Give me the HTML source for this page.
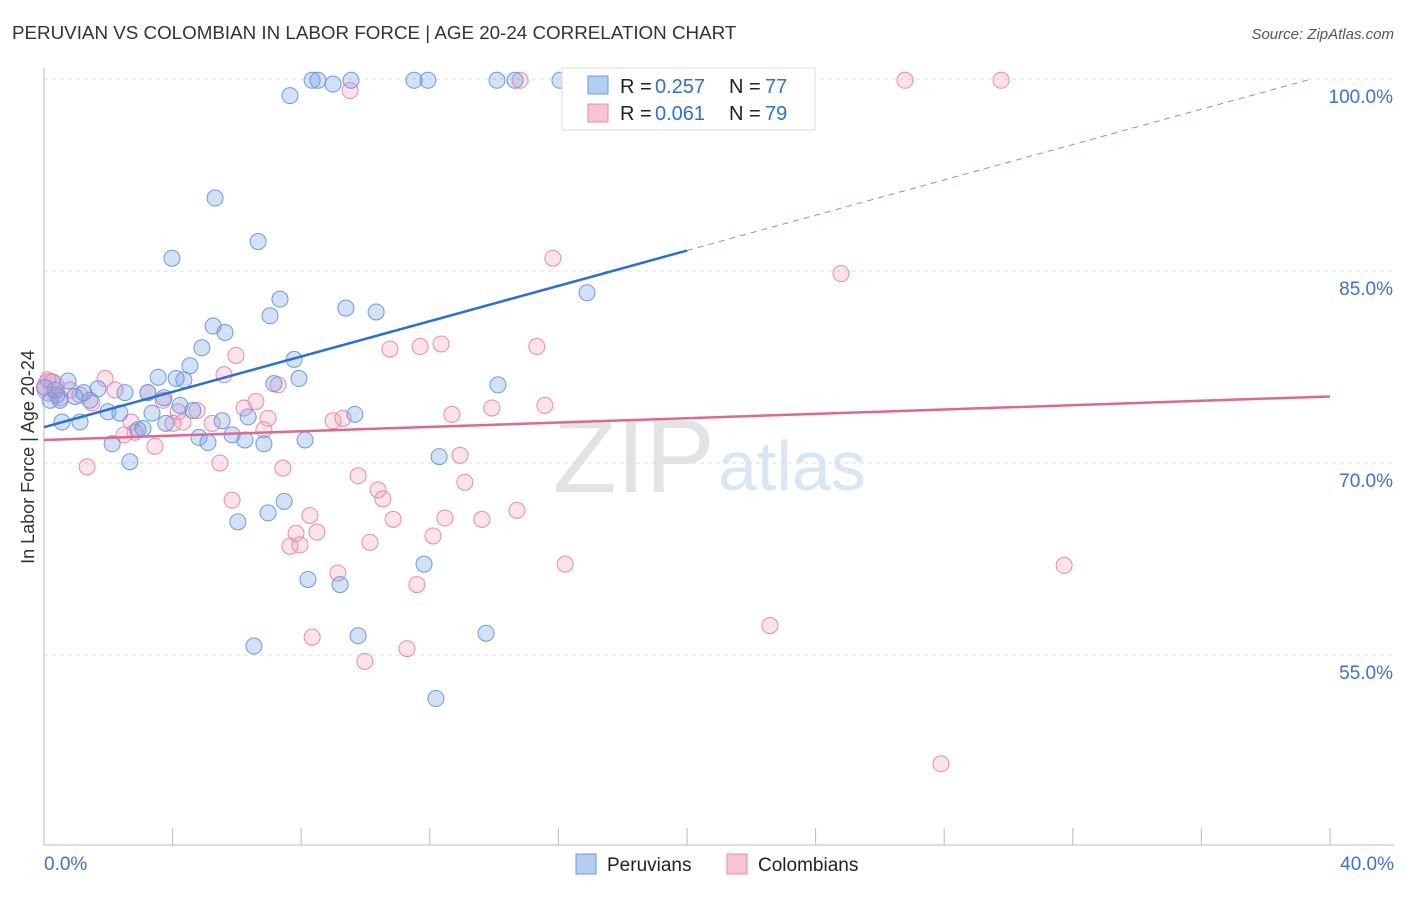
<!DOCTYPE html>
<html><head><meta charset="utf-8"><style>
body{margin:0;background:#fff;font-family:"Liberation Sans",sans-serif;}
svg text{font-family:"Liberation Sans",sans-serif;}
</style></head><body>
<svg id="chart" width="1406" height="892">
<text x="12" y="39" font-size="18.8" fill="#333">PERUVIAN VS COLOMBIAN IN LABOR FORCE | AGE 20-24 CORRELATION CHART</text>
<text x="1394" y="39" font-size="15" fill="#555" font-style="italic" text-anchor="end">Source: ZipAtlas.com</text>
<text x="34" y="457" font-size="18" fill="#333" transform="rotate(-90 34 457)" text-anchor="middle">In Labor Force | Age 20-24</text>
<text x="553" y="492" font-size="104" fill="#e3e3e3" font-family="Liberation Serif">ZIP</text>
<text x="718" y="490" font-size="70" fill="#dbe6f5">atlas</text>
<g id="grid"></g><g id="axes"></g><g id="pts"></g><g id="lines"></g>
<g>
<rect x="562" y="68" width="253" height="62" fill="#fff" stroke="#ddd"/>
<rect x="588" y="76" width="20" height="18" fill="#b4cdf3" stroke="#6a9be0"/>
<rect x="588" y="104" width="20" height="18" fill="#f8c4d4" stroke="#e98bab"/>
<g font-size="20">
<text x="620" y="93" fill="#222">R =</text><text x="655" y="93" fill="#2f6fd6">0.257</text>
<text x="729" y="93" fill="#222">N =</text><text x="765" y="93" fill="#2f6fd6">77</text></g>
<g font-size="20">
<text x="620" y="120" fill="#222">R =</text><text x="655" y="120" fill="#2f6fd6">0.061</text>
<text x="729" y="120" fill="#222">N =</text><text x="765" y="120" fill="#2f6fd6">79</text></g>
</g>
<g>
<rect x="576" y="854" width="20" height="20" fill="#b4cdf3" stroke="#6a9be0"/>
<text x="607" y="871" font-size="19" fill="#222">Peruvians</text>
<rect x="727" y="854" width="20" height="20" fill="#f8c4d4" stroke="#e98bab"/>
<text x="758" y="871" font-size="19" fill="#222">Colombians</text>
</g>
</svg>
<script>
const yTicks=[55,70,85,100];
const yTickLabels=["55.0%","70.0%","85.0%","100.0%"];
const xLabels=["0.0%","40.0%"];
const blueX=[8.34,8.52,8.99,9.55,11.51,11.94,14.09,14.65,16.05,7.65,5.32,6.66,3.98,7.34,9.39,10.33,7.03,16.89,5.26,5.63,4.91,7.78,4.54,4.11,3.55,4.35,7.93,7.15,14.12,3.23,3.73,4.23,2.52,1.68,0.75,0.34,0.5,0.96,1.43,1.99,2.36,3.36,4.63,5.54,6.35,9.67,1.12,0.56,3.79,2.92,3.08,5.85,4.82,5.1,6.25,6.84,8.12,2.12,2.67,12.29,7.47,6.97,6.03,11.82,8.21,9.21,9.77,13.75,6.53,12.19,0.19,0.03,0.4,1.24];
const blueY=[99.9,99.9,99.6,99.9,99.9,99.9,99.9,99.9,99.9,98.7,90.7,87.3,86.0,82.8,82.1,81.8,81.5,83.3,80.7,80.2,79.0,78.1,77.6,76.6,76.7,76.5,76.6,76.2,76.1,75.5,75.1,74.5,75.5,75.8,76.4,75.7,74.9,75.2,74.9,74.0,73.9,73.9,74.1,73.3,73.6,73.8,73.2,73.2,73.1,72.6,72.7,72.2,72.0,71.6,71.8,71.5,71.8,71.5,70.1,70.5,67.0,66.1,65.4,62.1,60.9,60.5,56.5,56.7,55.7,51.6,74.9,75.9,75.3,75.5];
const pinkX=[14.81,26.78,29.77,9.52,15.83,24.79,12.35,11.7,10.76,15.33,5.97,5.6,7.28,1.9,2.21,3.23,0.81,1.49,0.5,3.7,4.17,4.76,6.59,6.22,6.97,5.23,4.32,2.71,2.83,2.49,3.45,6.84,4.01,8.99,9.3,12.69,13.93,15.58,1.34,5.47,7.43,12.94,9.77,10.39,10.54,13.09,5.85,8.27,10.86,12.47,13.62,14.71,7.84,8.49,12.1,7.65,7.96,10.14,16.21,9.14,11.6,22.58,8.34,11.29,9.98,31.73,27.9,0.12,0.25,1.12];
const pinkY=[99.9,99.9,99.9,99.1,86.0,84.8,79.3,79.1,78.9,79.1,78.4,76.9,76.1,76.6,75.7,75.5,75.7,74.7,75.1,74.9,74.0,74.1,74.8,74.3,73.5,73.1,73.2,73.2,72.4,72.2,71.3,72.6,73.1,73.3,73.5,73.8,74.3,74.5,69.7,70.0,69.6,70.6,69.0,67.9,67.2,68.5,67.1,65.9,65.6,65.7,65.6,66.3,64.5,64.6,64.3,63.5,63.6,63.8,62.1,61.4,60.5,57.3,56.4,55.5,54.5,62.0,46.5,76.5,76.3,75.3];
const blueFit=[72.8,0.69];
const pinkFit=[71.8,0.085];
const NS="http://www.w3.org/2000/svg";
const xs=v=>44+v*32.15, ys=v=>79+(100-v)*12.8;
function mk(t,a,p){const e=document.createElementNS(NS,t);for(const k in a)e.setAttribute(k,a[k]);p.appendChild(e);return e;}
const grid=document.getElementById('grid'),axes=document.getElementById('axes'),pts=document.getElementById('pts'),lines=document.getElementById('lines');
yTicks.forEach((t,i)=>{
 const l=mk('line',{x1:44,x2:1394,y1:ys(t),y2:ys(t),stroke:'#ddd','stroke-dasharray':'4,4'},grid);
 
 
 const tx=mk('text',{x:1393,y:ys(t)+24,'font-size':19,fill:'#3a72d8','text-anchor':'end'},axes);
 tx.textContent=yTickLabels[i];
 
 
});
mk('line',{x1:44,x2:44,y1:68,y2:845,stroke:'#bbb'},axes);
mk('line',{x1:44,x2:1394,y1:845,y2:845,stroke:'#bbb'},axes);
for(let i=0;i<=10;i++){mk('line',{x1:xs(i*4),x2:xs(i*4),y1:828,y2:845,stroke:'#bbb'},axes);}
[[0,'start',44],[40,'end',1394]].forEach((d,i)=>{
 const t=mk('text',{x:d[2],y:870,'font-size':19,fill:'#3a72d8','text-anchor':d[1]},axes);
 t.textContent=xLabels[i];
 
 
});
function dots(X,Y,fill,stroke,name){X.forEach((x,i)=>{
 const c=mk('circle',{cx:xs(x),cy:ys(Y[i]),r:8,fill:fill,stroke:stroke,'stroke-width':1},pts);
 
 
});}
dots(pinkX,pinkY,'rgba(244,160,190,0.3)','#e98bab','colombian-point');
dots(blueX,blueY,'rgba(110,155,230,0.3)','#6a9be0','peruvian-point');
const big=mk('circle',{cx:xs(0.2),cy:ys(75.9),r:14,fill:'rgba(180,140,200,0.35)',stroke:'#c99ac0'},pts);


const bEnd=(100-blueFit[0])/blueFit[1];
const b1=mk('line',{x1:xs(0),y1:ys(blueFit[0]),x2:xs(20),y2:ys(blueFit[0]+blueFit[1]*20),stroke:'#2a6fd6','stroke-width':2.5},lines);


const b2=mk('line',{x1:xs(20),y1:ys(blueFit[0]+blueFit[1]*20),x2:xs(bEnd),y2:ys(100),stroke:'#6a9be0','stroke-width':1,'stroke-dasharray':'6,5'},lines);


const p1=mk('line',{x1:xs(0),y1:ys(pinkFit[0]),x2:xs(40),y2:ys(pinkFit[0]+pinkFit[1]*40),stroke:'#e2668f','stroke-width':2.5},lines);


</script>
</body></html>
